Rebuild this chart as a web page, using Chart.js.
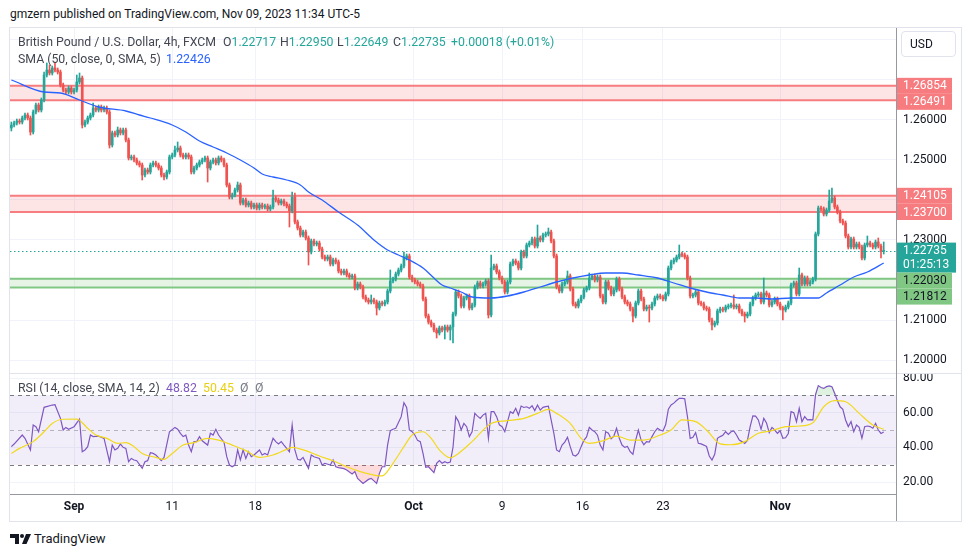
<!DOCTYPE html>
<html>
<head>
<meta charset="utf-8">
<script src="https://cdn.jsdelivr.net/npm/chart.js@4.4.0/dist/chart.umd.min.js"></script>
<style>
  body { margin: 0; background: #fff; width: 970px; height: 557px; overflow: hidden; position: relative;
         font-family: Roboto, "Liberation Sans", sans-serif; color: #131722; }
  .abs { position: absolute; white-space: nowrap; }
  #frame { position: absolute; left: 9px; top: 27px; width: 953px; height: 495px; border: 1px solid #e0e3eb; box-sizing: border-box; }
  canvas { position: absolute; }
  .lg { font-size: 12.3px; line-height: 14px; color: #434651; }
  .teal { color: #26a69a; }
  .line { position: absolute; background: #9598a1; }
  #usd { position: absolute; left: 901px; top: 31px; width: 55px; height: 26px; box-sizing: border-box;
         border: 1px solid #e0e3eb; border-radius: 4px; font-size: 12px; line-height: 24px; padding-left: 8px; }
</style>
</head>
<body>
<div class="abs" style="left:10px;top:7px;font-size:12px;">gmzern published on TradingView.com, Nov 09, 2023 11:34 UTC-5</div>
<div id="frame"></div>
<canvas id="main" width="951" height="345" style="left:10px;top:28px;"></canvas>
<canvas id="rsi" width="951" height="147" style="left:10px;top:374px;"></canvas>
<div class="line" style="left:10px;top:373px;width:951px;height:1px;background:#e0e3eb;"></div>
<div class="line" style="left:10px;top:494px;width:886px;height:1px;"></div>
<div class="line" style="left:896px;top:28px;width:1px;height:493px;"></div>
<div id="usd">USD</div>

<div class="abs lg" style="left:18px;top:35px;">British Pound / U.S. Dollar, 4h, FXCM</div>
<div class="abs lg" style="left:223px;top:35px;">O<span class="teal">1.22717</span></div>
<div class="abs lg" style="left:280px;top:35px;">H<span class="teal">1.22950</span></div>
<div class="abs lg" style="left:337px;top:35px;">L<span class="teal">1.22649</span></div>
<div class="abs lg" style="left:393px;top:35px;">C<span class="teal">1.22735</span></div>
<div class="abs lg teal" style="left:451px;top:35px;">+0.00018 (+0.01%)</div>
<div class="abs lg" style="left:18px;top:52px;">SMA (50, close, 0, SMA, 5)</div>
<div class="abs lg" style="left:166px;top:52px;color:#2962ff;">1.22426</div>
<div class="abs lg" style="left:18px;top:381px;">RSI (14, close, SMA, 14, 2)</div>
<div class="abs lg" style="left:166px;top:381px;color:#7e57c2;">48.82</div>
<div class="abs lg" style="left:203px;top:381px;color:#e8cf12;">50.45</div>
<div class="abs lg" style="left:240px;top:381px;color:#787b86;">Ø</div>
<div class="abs lg" style="left:255px;top:381px;color:#787b86;">Ø</div>

<svg class="abs" style="left:10px;top:534px;" width="22" height="10" viewBox="0 0 22 10">
  <path d="M0 0H9V10H5V4H0Z" fill="#131722"/>
  <circle cx="12" cy="2" r="2" fill="#131722"/>
  <path d="M16 0H21L16.5 10H12Z" fill="#131722"/>
</svg>
<div class="abs" style="left:34px;top:531px;font-size:13px;">TradingView</div>

<script>
// 4h candles, Aug 28 - Nov 9 2023
const opens = [
  1.258,1.25875,1.25925,1.25975,1.2595,1.2605,1.26125,1.2605,1.257,1.262,
  1.26375,1.2625,1.265,1.27125,1.2725,1.27175,1.273,1.2725,1.272,1.26875,
  1.2675,1.267,1.268,1.267,1.2675,1.2695,1.2705,1.25875,1.2595,1.2605,
  1.26125,1.263,1.2625,1.26325,1.2625,1.263,1.262,1.25375,1.25675,1.25625,
  1.2575,1.25675,1.2575,1.255,1.2505,1.25075,1.25,1.24925,1.24875,1.24625,
  1.2475,1.247,1.24875,1.24925,1.24875,1.248,1.24625,1.24575,1.247,1.25075,
  1.25125,1.2525,1.253,1.25125,1.25075,1.25125,1.25075,1.247,1.248,1.24875,
  1.2495,1.25,1.2505,1.248,1.2495,1.25,1.24925,1.2505,1.25,1.24875,
  1.24375,1.24075,1.24125,1.2425,1.24375,1.23925,1.24,1.23875,1.23925,1.23825,
  1.23875,1.238,1.23875,1.23825,1.2385,1.23775,1.23825,1.2405,1.24,1.23925,
  1.23975,1.239,1.2385,1.23725,1.24075,1.2345,1.233,1.23125,1.232,1.2305,
  1.227,1.22975,1.229,1.22925,1.22775,1.22575,1.22525,1.22575,1.224,1.225,
  1.2245,1.22225,1.22175,1.22225,1.22125,1.22075,1.221,1.218,1.219,1.21825,
  1.21575,1.215,1.2145,1.215,1.2145,1.213,1.21425,1.214,1.2145,1.21725,
  1.21975,1.22025,1.2215,1.2225,1.2235,1.2255,1.226,1.22075,1.22,1.2195,
  1.219,1.2185,1.21525,1.211,1.2095,1.20875,1.2075,1.20675,1.208,1.2075,
  1.20825,1.2075,1.20825,1.2115,1.217,1.216,1.2135,1.2155,1.216,1.213,
  1.21375,1.21825,1.21925,1.2185,1.219,1.21975,1.21125,1.223,1.2235,1.222,
  1.2205,1.2195,1.217,1.2195,1.224,1.22475,1.22425,1.223,1.227,1.226,
  1.22875,1.22925,1.23025,1.2285,1.2305,1.23,1.23125,1.2315,1.232,1.22975,
  1.226,1.21825,1.21725,1.219,1.2195,1.221,1.21775,1.214,1.2135,1.21475,
  1.21575,1.2175,1.218,1.2205,1.221,1.22,1.22075,1.216,1.2145,1.2195,
  1.218,1.2165,1.2175,1.22025,1.21775,1.21575,1.2145,1.214,1.21275,1.211,
  1.21425,1.21725,1.21525,1.21275,1.21325,1.213,1.214,1.2155,1.216,1.21575,
  1.21525,1.2165,1.223,1.2245,1.225,1.22575,1.2265,1.22625,1.22575,1.2205,
  1.216,1.21625,1.217,1.21425,1.214,1.213,1.21275,1.21,1.20875,1.20925,
  1.21225,1.21275,1.2125,1.21325,1.2135,1.21375,1.21325,1.2135,1.21225,1.2115,
  1.211,1.2115,1.214,1.2155,1.21625,1.2165,1.2145,1.21675,1.21625,1.21375,
  1.2145,1.21525,1.214,1.213,1.2125,1.21325,1.21425,1.21875,1.21925,1.2165,
  1.22125,1.219,1.2205,1.219,1.2195,1.22025,1.2315,1.238,1.23775,1.2365,
  1.2375,1.23975,1.2405,1.23825,1.237,1.23475,1.23425,1.231,1.22825,1.23025,
  1.22825,1.229,1.22825,1.2255,1.22875,1.22925,1.22875,1.22825,1.2295,1.2285,
  1.22717
];
const highs = [
  1.2595,1.25975,1.26025,1.26025,1.261,1.26175,1.26175,1.261,1.2625,1.26425,
  1.26425,1.2655,1.272,1.27425,1.27375,1.2735,1.2745,1.273,1.2725,1.26925,
  1.268,1.2685,1.2685,1.268,1.27125,1.27175,1.271,1.26,1.261,1.26175,
  1.26425,1.2635,1.26375,1.26375,1.2635,1.2635,1.2625,1.25725,1.25725,1.25825,
  1.258,1.258,1.258,1.2555,1.25125,1.25125,1.2505,1.24975,1.24925,1.248,
  1.248,1.24925,1.24975,1.24975,1.24925,1.2485,1.24675,1.2475,1.25125,1.25175,
  1.2535,1.2545,1.2535,1.25175,1.25175,1.25175,1.25125,1.2485,1.24925,1.25,
  1.2505,1.251,1.251,1.25,1.2505,1.2505,1.251,1.251,1.2505,1.24925,
  1.24425,1.24175,1.243,1.2445,1.24425,1.2405,1.2405,1.23975,1.23975,1.23925,
  1.23925,1.23925,1.23925,1.239,1.239,1.23875,1.2425,1.241,1.2405,1.24025,
  1.24025,1.2395,1.239,1.242,1.24175,1.235,1.2335,1.2325,1.2325,1.231,
  1.23025,1.23025,1.22975,1.22975,1.22825,1.22625,1.22625,1.22625,1.2255,1.2255,
  1.225,1.22275,1.22275,1.22275,1.22175,1.2215,1.2215,1.2195,1.2195,1.21875,
  1.21625,1.2155,1.21625,1.2155,1.215,1.21475,1.21475,1.215,1.21775,1.2225,
  1.22075,1.222,1.223,1.224,1.227,1.2265,1.2265,1.22125,1.2205,1.22,
  1.2195,1.219,1.21575,1.2115,1.21,1.20925,1.208,1.2085,1.2085,1.20875,
  1.20875,1.20875,1.212,1.2175,1.2175,1.2165,1.216,1.2165,1.2165,1.21425,
  1.21875,1.21975,1.21975,1.2195,1.22025,1.22025,1.22625,1.224,1.224,1.2225,
  1.221,1.22,1.22,1.2245,1.22525,1.22525,1.22475,1.2275,1.2275,1.22925,
  1.22975,1.23075,1.23075,1.23375,1.231,1.23175,1.232,1.233,1.2325,1.23025,
  1.2265,1.21875,1.2195,1.22,1.22225,1.2215,1.21825,1.2145,1.21525,1.21625,
  1.218,1.2185,1.22175,1.2215,1.2215,1.22125,1.22125,1.2165,1.22,1.22,
  1.2185,1.218,1.22075,1.22075,1.21825,1.21625,1.215,1.2145,1.21325,1.21475,
  1.21775,1.21775,1.21575,1.21375,1.21375,1.2145,1.216,1.2165,1.2165,1.21625,
  1.217,1.2235,1.225,1.2255,1.22625,1.22875,1.227,1.22675,1.22625,1.221,
  1.21675,1.2175,1.2175,1.21475,1.2145,1.2135,1.21325,1.2105,1.20975,1.21275,
  1.21325,1.21325,1.21375,1.214,1.21425,1.21625,1.214,1.214,1.21275,1.212,
  1.212,1.2145,1.216,1.21675,1.217,1.217,1.2205,1.21725,1.21675,1.215,
  1.21575,1.21575,1.2145,1.2135,1.21375,1.21475,1.21925,1.21975,1.21975,1.223,
  1.22175,1.221,1.221,1.22,1.22075,1.232,1.2385,1.2385,1.23825,1.238,
  1.2425,1.243,1.241,1.23875,1.2375,1.23525,1.23475,1.2315,1.23075,1.23075,
  1.2295,1.2295,1.22875,1.22925,1.231,1.22975,1.22925,1.23,1.2305,1.229,
  1.2295
];
const lows = [
  1.25725,1.25825,1.25875,1.259,1.259,1.26,1.26,1.25625,1.2565,1.2615,
  1.262,1.262,1.2645,1.27075,1.27125,1.27125,1.272,1.2715,1.26825,1.267,
  1.2665,1.2665,1.2665,1.2665,1.267,1.269,1.258,1.25825,1.259,1.26,
  1.26075,1.262,1.262,1.262,1.262,1.2615,1.253,1.25325,1.25575,1.25575,
  1.25625,1.25625,1.2545,1.25,1.25,1.2495,1.24875,1.24825,1.245,1.24575,
  1.2465,1.2465,1.24825,1.24825,1.2475,1.24575,1.245,1.24525,1.2465,1.25025,
  1.25075,1.252,1.25075,1.25025,1.25025,1.25025,1.2465,1.2465,1.2475,1.24825,
  1.249,1.2495,1.2445,1.2475,1.249,1.24875,1.24875,1.2495,1.24825,1.24325,
  1.24025,1.24025,1.24075,1.242,1.23875,1.23875,1.23825,1.23825,1.23775,1.23775,
  1.2375,1.2375,1.23775,1.23775,1.23725,1.23725,1.23775,1.2395,1.23875,1.23875,
  1.2385,1.238,1.23325,1.23675,1.234,1.2325,1.23075,1.23075,1.23,1.22375,
  1.2265,1.2285,1.2285,1.22725,1.22525,1.22475,1.22475,1.2235,1.2235,1.224,
  1.22175,1.22125,1.22125,1.22075,1.22025,1.22025,1.2175,1.2175,1.21775,1.21525,
  1.2145,1.214,1.214,1.214,1.21125,1.2125,1.2135,1.2135,1.214,1.21675,
  1.21925,1.21975,1.221,1.222,1.223,1.225,1.22025,1.2195,1.219,1.2185,
  1.218,1.21475,1.2105,1.209,1.20825,1.207,1.2055,1.20625,1.207,1.20525,
  1.207,1.205,1.20425,1.211,1.2155,1.213,1.213,1.215,1.2125,1.2125,
  1.21325,1.21775,1.218,1.218,1.2185,1.2105,1.21075,1.2225,1.2215,1.22,
  1.219,1.2165,1.2165,1.219,1.2235,1.22375,1.2225,1.2225,1.2255,1.2255,
  1.22825,1.22875,1.228,1.228,1.2295,1.2295,1.23075,1.231,1.22925,1.2255,
  1.21775,1.21675,1.21675,1.2185,1.219,1.21725,1.2135,1.213,1.213,1.21425,
  1.21525,1.217,1.2175,1.22,1.2195,1.2195,1.2155,1.214,1.214,1.2175,
  1.216,1.216,1.217,1.21725,1.21525,1.214,1.2135,1.21225,1.2095,1.2105,
  1.21375,1.21475,1.21225,1.21225,1.2095,1.2125,1.2135,1.215,1.21525,1.21475,
  1.21475,1.216,1.2225,1.224,1.2245,1.22525,1.22575,1.22525,1.22,1.2155,
  1.2155,1.21575,1.21375,1.2135,1.2125,1.21225,1.2095,1.2075,1.20825,1.20875,
  1.21175,1.212,1.212,1.21275,1.213,1.21275,1.21275,1.21175,1.211,1.2095,
  1.2105,1.211,1.2135,1.215,1.21575,1.214,1.214,1.21575,1.21325,1.21325,
  1.214,1.2135,1.2125,1.21,1.212,1.21275,1.21375,1.21825,1.216,1.216,
  1.2185,1.2185,1.2185,1.2185,1.219,1.21975,1.231,1.23725,1.236,1.236,
  1.237,1.23925,1.23775,1.2365,1.23425,1.23375,1.2305,1.22775,1.22775,1.22775,
  1.22775,1.22775,1.225,1.225,1.22825,1.22825,1.22775,1.22775,1.228,1.2255,
  1.22649
];
const closes = [
  1.25875,1.25925,1.25975,1.2595,1.2605,1.26125,1.2605,1.257,1.262,1.26375,
  1.2625,1.265,1.27125,1.2725,1.27175,1.273,1.2725,1.272,1.26875,1.2675,
  1.267,1.268,1.267,1.2675,1.2695,1.2705,1.25875,1.2595,1.2605,1.26125,
  1.263,1.2625,1.26325,1.2625,1.263,1.262,1.25375,1.25675,1.25625,1.2575,
  1.25675,1.2575,1.255,1.2505,1.25075,1.25,1.24925,1.24875,1.24625,1.2475,
  1.247,1.24875,1.24925,1.24875,1.248,1.24625,1.24575,1.247,1.25075,1.25125,
  1.2525,1.253,1.25125,1.25075,1.25125,1.25075,1.247,1.248,1.24875,1.2495,
  1.25,1.2505,1.248,1.2495,1.25,1.24925,1.2505,1.25,1.24875,1.24375,
  1.24075,1.24125,1.2425,1.24375,1.23925,1.24,1.23875,1.23925,1.23825,1.23875,
  1.238,1.23875,1.23825,1.2385,1.23775,1.23825,1.2405,1.24,1.23925,1.23975,
  1.239,1.2385,1.23725,1.24075,1.2345,1.233,1.23125,1.232,1.2305,1.227,
  1.22975,1.229,1.22925,1.22775,1.22575,1.22525,1.22575,1.224,1.225,1.2245,
  1.22225,1.22175,1.22225,1.22125,1.22075,1.221,1.218,1.219,1.21825,1.21575,
  1.215,1.2145,1.215,1.2145,1.213,1.21425,1.214,1.2145,1.21725,1.21975,
  1.22025,1.2215,1.2225,1.2235,1.2255,1.226,1.22075,1.22,1.2195,1.219,
  1.2185,1.21525,1.211,1.2095,1.20875,1.2075,1.20675,1.208,1.2075,1.20825,
  1.2075,1.20825,1.2115,1.217,1.216,1.2135,1.2155,1.216,1.213,1.21375,
  1.21825,1.21925,1.2185,1.219,1.21975,1.21125,1.223,1.2235,1.222,1.2205,
  1.2195,1.217,1.2195,1.224,1.22475,1.22425,1.223,1.227,1.226,1.22875,
  1.22925,1.23025,1.2285,1.2305,1.23,1.23125,1.2315,1.232,1.22975,1.226,
  1.21825,1.21725,1.219,1.2195,1.221,1.21775,1.214,1.2135,1.21475,1.21575,
  1.2175,1.218,1.2205,1.221,1.22,1.22075,1.216,1.2145,1.2195,1.218,
  1.2165,1.2175,1.22025,1.21775,1.21575,1.2145,1.214,1.21275,1.211,1.21425,
  1.21725,1.21525,1.21275,1.21325,1.213,1.214,1.2155,1.216,1.21575,1.21525,
  1.2165,1.223,1.2245,1.225,1.22575,1.2265,1.22625,1.22575,1.2205,1.216,
  1.21625,1.217,1.21425,1.214,1.213,1.21275,1.21,1.20875,1.20925,1.21225,
  1.21275,1.2125,1.21325,1.2135,1.21375,1.21325,1.2135,1.21225,1.2115,1.211,
  1.2115,1.214,1.2155,1.21625,1.2165,1.2145,1.21675,1.21625,1.21375,1.2145,
  1.21525,1.214,1.213,1.2125,1.21325,1.21425,1.21875,1.21925,1.2165,1.22125,
  1.219,1.2205,1.219,1.2195,1.22025,1.2315,1.238,1.23775,1.2365,1.2375,
  1.23975,1.2405,1.23825,1.237,1.23475,1.23425,1.231,1.22825,1.23025,1.22825,
  1.229,1.22825,1.2255,1.22875,1.22925,1.22875,1.22825,1.2295,1.2285,1.22717,
  1.22735
];

// SMA(50): [candle index, price]
const smaPoints = [
  [0,1.27],[12,1.267],[18,1.26675],[25,1.265],[32,1.26325],[42,1.26225],[47,1.26125],[51,1.2605],
  [59,1.25875],[64,1.257],[69,1.25475],[74,1.25325],[79,1.25175],[84,1.25],[89,1.248],[92,1.2465],
  [96,1.24575],[101,1.245],[106,1.24375],[109,1.242],[114,1.24],[120,1.237],[127,1.23375],[133,1.23],
  [138,1.2275],[142,1.22625],[146,1.225],[151,1.223],[155,1.2205],[158,1.21875],[161,1.218],[165,1.217],
  [169,1.21575],[176,1.2155],[182,1.216],[188,1.217],[194,1.21825],[200,1.2195],[206,1.2205],[212,1.22125],
  [218,1.22175],[224,1.22175],[230,1.22125],[237,1.2205],[243,1.21925],[249,1.218],[255,1.217],[261,1.21625],
  [267,1.2155],[273,1.2155],[279,1.21525],[286,1.2155],[292,1.2155],[296,1.2155],[299,1.21675],[304,1.21875],
  [309,1.22075],[314,1.222],[320,1.22426]
];

// RSI(14) and its SMA(14), [candle index, value]
const rsiPoints = [
  [0,40.4],[1,41.9],[4,47.1],[5,45.2],[7,38.5],[8,52.9],[9,51.9],[10,49],[12,63.1],[15,64.4],
  [16,64.6],[18,56.7],[19,50],[20,51.5],[21,50.4],[23,51.9],[25,56.3],[26,37.5],[27,38.5],[28,40.4],
  [29,47.1],[30,46.2],[32,46.5],[34,45.2],[36,31.7],[37,41.3],[38,38.5],[39,39.4],[40,41.9],[41,40],
  [42,39.4],[43,31.7],[44,33.6],[45,32.7],[46,32.3],[48,27.9],[49,31.7],[50,32.3],[51,36.9],[52,36.5],
  [53,35.6],[55,32.3],[56,34.2],[58,49],[60,51.5],[61,50.5],[62,48.1],[63,46.2],[64,47],[65,41.3],
  [66,37.5],[67,43.3],[68,43.3],[69,46.2],[70,43.8],[72,41.3],[73,48.1],[74,47.1],[75,50.4],[76,47.1],
  [78,43],[79,34.6],[80,29.8],[81,28.8],[82,29.8],[83,38.5],[84,32.7],[85,38.5],[86,33.6],[87,37.5],
  [88,34.6],[89,35.6],[91,38.5],[92,35.6],[93,36.5],[94,35.6],[96,45.2],[97,43.3],[98,41.9],[99,43.3],
  [100,41.3],[102,37.5],[103,52.9],[104,38.5],[105,33.1],[106,32.7],[107,34.2],[109,27.9],[110,35.6],[111,34.6],
  [113,33.6],[114,29.8],[115,30.8],[117,29.8],[118,32.7],[119,28.8],[120,28.3],[122,27.7],[123,26.9],[125,24.6],
  [126,26],[127,22.1],[129,19.2],[131,21.5],[132,22.1],[134,19.2],[135,25],[136,28.8],[137,28.8],[138,41.3],
  [139,49.6],[140,50.4],[141,51],[143,57.7],[144,65.8],[145,63],[146,50],[147,49],[148,47.1],[149,44],
  [150,43.3],[151,36.5],[152,28.5],[153,28.8],[155,25.4],[156,30.8],[157,32.3],[158,30.8],[159,31.7],[160,31],
  [161,31.5],[162,40],[163,57.7],[164,55],[165,50],[166,53.8],[167,51.9],[168,46.2],[169,49],[170,59.6],
  [171,58],[172,56.7],[173,58.6],[174,59.6],[175,45.2],[176,60.6],[177,60.6],[178,57.7],[179,53],[180,51.9],
  [181,49],[182,54.8],[183,60.6],[184,59.6],[185,62.5],[186,58.6],[187,63.8],[188,63],[189,63.4],[190,62.5],
  [191,64],[192,61.2],[193,64.4],[194,61.5],[195,63.1],[196,63.5],[197,63.8],[198,55.8],[199,48.1],[200,38.5],
  [201,37.5],[202,41.3],[203,43],[204,45.8],[205,40.4],[206,35.6],[207,35],[208,36.5],[209,40.4],[210,44],
  [211,46],[212,51.5],[213,50],[214,49],[215,47],[216,41.3],[217,38.5],[218,49],[219,48.1],[220,45],
  [221,46.5],[222,51],[223,45.2],[224,41.3],[225,40],[226,40.5],[227,37.5],[228,36],[229,44.2],[230,50],
  [231,44.2],[232,41.5],[233,43.3],[234,43],[235,46.2],[236,49],[237,51],[238,50],[239,49.4],[240,53],
  [241,62],[242,64.4],[243,65.5],[244,67],[245,68.3],[246,68.3],[247,68],[248,57.7],[249,45.2],[250,45.8],
  [251,48.5],[252,42.3],[253,42],[254,41.3],[255,40.5],[256,35],[257,32.7],[258,36],[259,45.2],[260,46.2],
  [261,47],[262,49],[263,47.5],[264,49],[265,49.5],[266,47.1],[267,44.2],[268,43.3],[269,42.3],[270,44],
  [271,51.9],[272,58.1],[273,58],[274,55.8],[275,50.4],[276,56.7],[277,54],[278,48.5],[279,51.5],[280,50],
  [281,48.1],[282,49.6],[283,45.2],[284,45.5],[285,48],[286,60.6],[287,60],[288,54.8],[289,62.5],[290,54.8],
  [291,57.7],[292,55.8],[293,56],[294,55.8],[295,70.5],[296,75.6],[297,74.5],[298,74],[299,75],[300,75.4],
  [301,75],[302,71.2],[303,67],[304,63.4],[305,61.9],[306,55.8],[307,52],[308,54.8],[309,49],[310,52.9],
  [311,51.5],[312,45.2],[313,51.9],[314,52.3],[315,52],[316,51],[317,53.8],[318,50],[319,48],[320,48.82]
];
const rsiMaPoints = [
  [0,36.5],[3,39.4],[8,43.3],[12,49],[15,53.8],[19,56.2],[24,56.3],[28,51],[31,47.1],[35,45.2],
  [39,42.3],[42,42.7],[45,40.4],[48,36.5],[53,34.2],[56,33.1],[59,36.5],[63,41.3],[67,42.7],[72,45.2],
  [76,44.2],[81,41.3],[86,38.1],[91,34.2],[96,35.6],[101,38.8],[103,40],[108,38.1],[113,35],[118,32.3],
  [123,28.8],[128,26],[133,24],[136,23.5],[140,30.8],[144,40.4],[147,47.1],[151,49],[154,45.2],[157,38.5],
  [161,34],[164,36.5],[169,43.3],[176,53.8],[182,55.4],[188,56.7],[193,59.6],[197,61.9],[200,59.6],[205,53.8],
  [209,45.2],[212,42.3],[217,43.8],[222,46.5],[227,44.2],[232,44.2],[238,47.1],[242,50],[246,55.8],[251,54.8],
  [255,50],[260,42],[264,41.5],[269,43.3],[274,48.1],[279,49.6],[284,51.9],[289,52.3],[294,54.2],[298,63.4],
  [302,66.9],[306,66.3],[311,59.6],[316,52.9],[320,50.45]
];

// time axis
const tickIdx = [23, 59, 89.5, 147.5, 180, 209.5, 239, 282];
const tickLabels = ['Sep', '11', '18', 'Oct', '9', '16', '23', 'Nov'];
const monthLabels = ['Sep', 'Oct', 'Nov'];

// price axis
const priceTicks = [1.20, 1.21, 1.22, 1.23, 1.24, 1.25, 1.26, 1.27, 1.28];
const shownPriceLabels = [1.20, 1.21, 1.23, 1.25, 1.26];
const rsiTicks = [20, 40, 60, 80];
const rsiLevels = [70, 50, 30];

// drawn zones and last price
const redZones = [[1.26491, 1.26854], [1.237, 1.24105]];
const greenZones = [[1.21812, 1.2203]];
const lastPrice = 1.22735;
const countdown = '01:25:13';

const FONT = 'Roboto, "Liberation Sans", sans-serif';
Chart.defaults.font.family = FONT;
Chart.defaults.font.size = 12;
Chart.defaults.color = '#131722';

const UP = '#26a69a', DOWN = '#ef5350';
const RED = '#f77c80', GREEN = '#81c784';
const slotMin = -0.5, slotMax = 324.5;

const idx = closes.map((_, i) => i);
const candleColors = idx.map(i => closes[i] >= opens[i] ? UP : DOWN);

function xAxis(showLabels) {
  return {
    type: 'linear', min: slotMin, max: slotMax, offset: false,
    grid: { color: '#f0f3fa', offset: false, drawTicks: false },
    border: { display: false },
    afterBuildTicks: s => { s.ticks = tickIdx.map(v => ({ value: v })); },
    ticks: {
      display: showLabels, autoSkip: false, maxRotation: 0, padding: 6, color: '#131722',
      callback: (v, i) => tickLabels[i],
      font: c => ({ family: FONT, size: 12, weight: monthLabels.includes(tickLabels[c.index]) ? 'bold' : 'normal' })
    },
    afterFit: s => { s.height = showLabels ? 27 : 0; s.paddingLeft = 0; s.paddingRight = 0; }
  };
}

const zonesPlugin = {
  id: 'zones',
  beforeDatasetsDraw(chart) {
    const { ctx, chartArea: a, scales: { y } } = chart;
    ctx.save();
    const draw = (z, line, fill) => {
      const y1 = y.getPixelForValue(z[1]), y0 = y.getPixelForValue(z[0]);
      ctx.fillStyle = fill;
      ctx.fillRect(a.left, y1, a.right - a.left, y0 - y1);
      ctx.strokeStyle = line; ctx.lineWidth = 2;
      ctx.beginPath();
      ctx.moveTo(a.left, y1); ctx.lineTo(a.right, y1);
      ctx.moveTo(a.left, y0); ctx.lineTo(a.right, y0);
      ctx.stroke();
    };
    redZones.forEach(z => draw(z, RED, 'rgba(247,124,128,0.2)'));
    greenZones.forEach(z => draw(z, GREEN, 'rgba(129,199,132,0.2)'));
    ctx.restore();
  },
  afterDatasetsDraw(chart) {
    const { ctx, chartArea: a, scales: { y } } = chart;
    const py = Math.round(y.getPixelForValue(lastPrice)) + 0.5;
    ctx.save();
    ctx.strokeStyle = UP; ctx.lineWidth = 1; ctx.setLineDash([1.5, 2.5]);
    ctx.beginPath(); ctx.moveTo(a.left, py); ctx.lineTo(a.right, py); ctx.stroke();
    ctx.restore();
  }
};

const tagsPlugin = {
  id: 'tags',
  afterDraw(chart) {
    const { ctx, chartArea: a, scales: { y } } = chart;
    const items = [];
    redZones.forEach(z => { items.push({ v: z[1], bg: RED, fg: '#fff' }); items.push({ v: z[0], bg: RED, fg: '#fff' }); });
    items.push({ v: lastPrice, bg: UP, fg: '#fff', extra: countdown });
    greenZones.forEach(z => { items.push({ v: z[1], bg: GREEN, fg: '#131722' }); items.push({ v: z[0], bg: GREEN, fg: '#131722' }); });
    items.sort((p, q) => q.v - p.v);
    ctx.save();
    ctx.font = '12px ' + FONT;
    ctx.textBaseline = 'middle';
    let prevBottom = -Infinity;
    const x0 = a.right + 1;
    items.forEach(it => {
      const h = it.extra ? 30 : 16;
      const top = Math.max(y.getPixelForValue(it.v) - 8, prevBottom);
      ctx.fillStyle = it.bg;
      ctx.fillRect(x0, top, it.extra ? 59 : 55, h);
      ctx.fillStyle = it.fg;
      ctx.fillText(it.v.toFixed(5), x0 + 6, top + 8.5);
      if (it.extra) ctx.fillText(it.extra, x0 + 6, top + 22.5);
      prevBottom = top + h;
    });
    ctx.restore();
  }
};

new Chart(document.getElementById('main'), {
  type: 'bar',
  data: {
    datasets: [
      { type: 'line', data: smaPoints.map(p => ({ x: p[0], y: p[1] })), borderColor: '#2962ff', borderWidth: 1.3,
        pointRadius: 0, cubicInterpolationMode: 'monotone' },
      { data: idx.map(i => ({ x: i, y: [opens[i], closes[i]] })), backgroundColor: candleColors,
        barThickness: 2, minBarLength: 1, grouped: false },
      { data: idx.map(i => ({ x: i, y: [lows[i], highs[i]] })), backgroundColor: candleColors,
        barThickness: 1, grouped: false }
    ]
  },
  options: {
    responsive: false, animation: false, devicePixelRatio: 1, events: [],
    layout: { padding: 0 },
    plugins: { legend: { display: false }, tooltip: { enabled: false } },
    scales: {
      x: xAxis(false),
      y: {
        position: 'right', min: 1.19675, max: 1.283,
        afterBuildTicks: s => { s.ticks = priceTicks.map(v => ({ value: v })); },
        ticks: { padding: 7, color: '#131722',
          callback: v => shownPriceLabels.some(s => Math.abs(s - v) < 1e-6) ? v.toFixed(5) : '' },
        grid: { color: '#f0f3fa', drawTicks: false },
        border: { display: false },
        afterFit: s => { s.width = 65; s.paddingTop = 0; s.paddingBottom = 0; }
      }
    }
  },
  plugins: [zonesPlugin, tagsPlugin]
});

const rsiBandsPlugin = {
  id: 'rsiBands',
  beforeDatasetsDraw(chart) {
    const { ctx, chartArea: a, scales: { y } } = chart;
    ctx.save();
    const yTop = y.getPixelForValue(rsiLevels[0]), yBot = y.getPixelForValue(rsiLevels[2]);
    ctx.fillStyle = 'rgba(126,87,194,0.1)';
    ctx.fillRect(a.left, yTop, a.right - a.left, yBot - yTop);
    ctx.setLineDash([4, 4]); ctx.lineWidth = 1;
    rsiLevels.forEach((lv, k) => {
      const py = Math.round(y.getPixelForValue(lv)) + 0.5;
      ctx.strokeStyle = k === 1 ? 'rgba(120,123,134,0.5)' : '#787b86';
      ctx.beginPath(); ctx.moveTo(a.left, py); ctx.lineTo(a.right, py); ctx.stroke();
    });
    ctx.restore();
  }
};

new Chart(document.getElementById('rsi'), {
  type: 'line',
  data: {
    datasets: [
      { data: rsiMaPoints.map(p => ({ x: p[0], y: p[1] })), borderColor: '#f2d91c', borderWidth: 1.2,
        pointRadius: 0, cubicInterpolationMode: 'monotone' },
      { data: rsiPoints.map(p => ({ x: p[0], y: p[1] })), borderColor: '#7e57c2', borderWidth: 1.2, pointRadius: 0,
        fill: { target: { value: 30 }, above: 'rgba(0,0,0,0)', below: 'rgba(242,54,69,0.18)' } },
      { data: rsiPoints.map(p => ({ x: p[0], y: p[1] })), borderColor: 'rgba(0,0,0,0)', borderWidth: 0, pointRadius: 0,
        fill: { target: { value: 70 }, above: 'rgba(76,175,80,0.18)', below: 'rgba(0,0,0,0)' } }
    ]
  },
  options: {
    responsive: false, animation: false, devicePixelRatio: 1, events: [],
    layout: { padding: 0 },
    plugins: { legend: { display: false }, tooltip: { enabled: false } },
    scales: {
      x: xAxis(true),
      y: {
        position: 'right', min: 13.08, max: 82.31,
        afterBuildTicks: s => { s.ticks = rsiTicks.map(v => ({ value: v })); },
        ticks: { padding: 7, color: '#131722', callback: v => v.toFixed(2) },
        grid: { color: '#f0f3fa', drawTicks: false },
        border: { display: false },
        afterFit: s => { s.width = 65; s.paddingTop = 0; s.paddingBottom = 0; }
      }
    }
  },
  plugins: [rsiBandsPlugin]
});
</script>
</body>
</html>
